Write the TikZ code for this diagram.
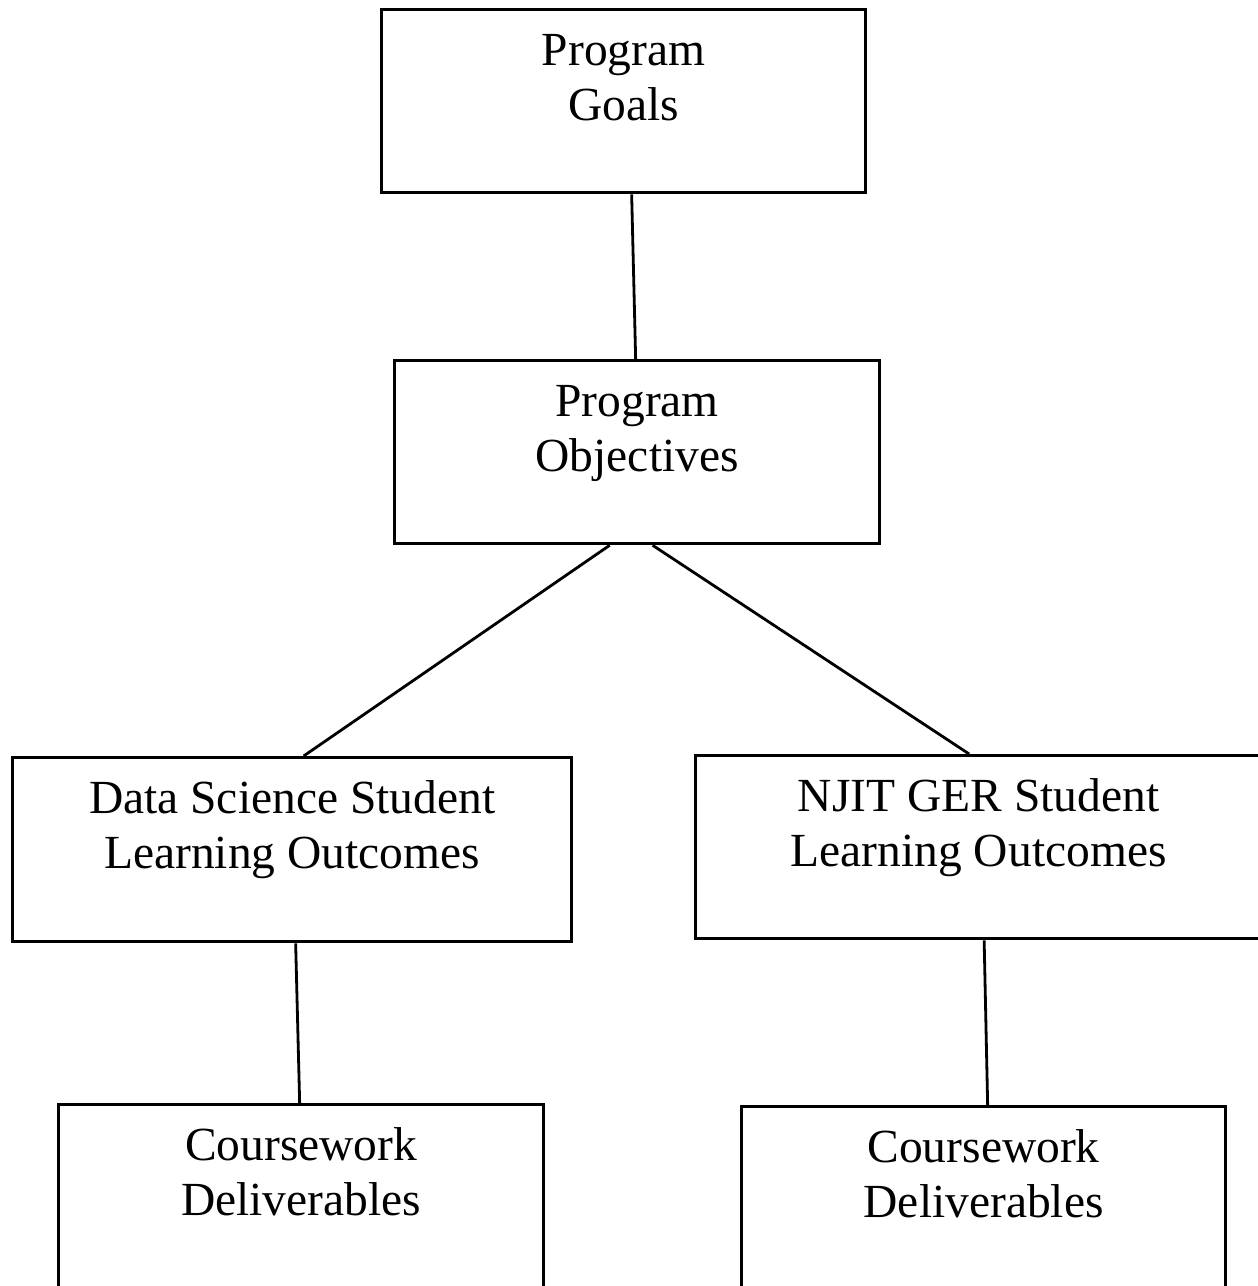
\documentclass[tikz,border=0pt]{standalone}
\usepackage{fontspec}
\setmainfont{Liberation Serif}
\usetikzlibrary{calc}
\newcommand{\boxtext}[3]{\parbox[t][#2][t]{#1}{\centering\rule{0pt}{56pt}#3}}
\begin{document}
\begin{tikzpicture}[x=1pt,y=-1pt,
  box/.style={draw, line width=3.3pt, inner sep=0pt, anchor=north west, font=\fontsize{47.5}{55}\selectfont},
  conn/.style={line width=2.8pt}]
\useasboundingbox (0,0) rectangle (1258,1286);
\clip (0,0) rectangle (1258,1286);
\node[box] (goals) at (380,8) {\boxtext{484pt}{183pt}{Program\\Goals}};
\node[box] (obj) at (393,359) {\boxtext{485pt}{183pt}{Program\\Objectives}};
\node[box] (ds) at (11,756) {\boxtext{559pt}{184pt}{Data Science Student\\Learning Outcomes}};
\node[box] (ger) at (694,754) {\boxtext{566pt}{183pt}{NJIT GER Student\\Learning Outcomes}};
\node[box] (cwl) at (57,1103) {\boxtext{485pt}{200pt}{Coursework\\Deliverables}};
\node[box] (cwr) at (740,1105) {\boxtext{484pt}{200pt}{Coursework\\Deliverables}};
\draw[conn] ([xshift=8pt]goals.south) -- ([xshift=-1.5pt]obj.north);
\draw[conn] ([xshift=-27.5pt]obj.south) -- ([xshift=11.5pt]ds.north);
\draw[conn] ([xshift=15.5pt]obj.south) -- ([xshift=-9.5pt]ger.north);
\draw[conn] ([xshift=3.5pt]ds.south) -- ([xshift=-1.5pt]cwl.north);
\draw[conn] ([xshift=5.5pt]ger.south) -- ([xshift=4pt]cwr.north);
\end{tikzpicture}
\end{document}
